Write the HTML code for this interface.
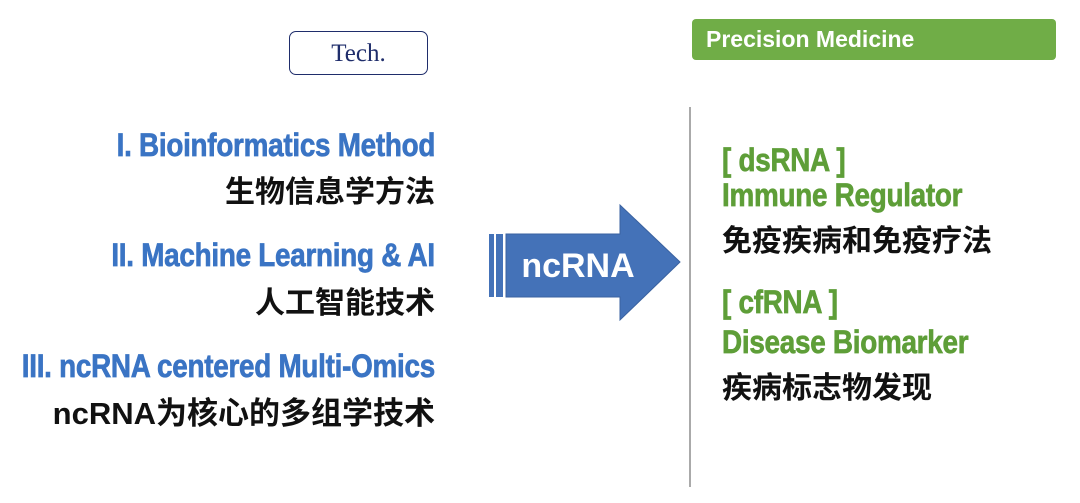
<!DOCTYPE html>
<html><head><meta charset="utf-8"><style>
body{margin:0;width:1080px;height:503px;background:#fff;position:relative;overflow:hidden;font-family:"Liberation Sans","Noto Sans CJK SC",sans-serif}
.a{position:absolute;white-space:nowrap}
.bl{color:#3a74c4;font-weight:bold;font-size:32px;right:645px;transform:scaleX(0.87);transform-origin:right top;letter-spacing:-0.3px;-webkit-text-stroke:0.7px #3a74c4}
.cn{color:#111;font-weight:bold;font-size:30px;right:645px}
.gr{color:#5e9e38;font-weight:bold;font-size:32px;left:722px;transform:scaleX(0.87);transform-origin:left top;letter-spacing:-0.3px;-webkit-text-stroke:0.7px #5e9e38}
.cr{color:#111;font-weight:bold;font-size:30px;left:722px}
</style></head><body>
<div class="a" style="left:289px;top:31px;width:137px;height:42px;border:1.5px solid #1f2d6b;border-radius:7px;text-align:center;line-height:44px;font-family:'Liberation Serif',serif;font-size:25px;color:#1f2d6b">Tech.</div>
<div class="a" style="left:692px;top:19px;width:364px;height:41px;background:#70ad47;border-radius:4px;color:#fff;font-weight:bold;font-size:23px;line-height:41px;padding-left:14px;box-sizing:border-box">Precision Medicine</div>
<div class="a" style="left:689px;top:107px;width:2px;height:380px;background:#aaa"></div>

<div class="a bl" style="top:127px">I. Bioinformatics Method</div>
<div class="a cn" style="top:167px">生物信息学方法</div>
<div class="a bl" style="top:237px">II. Machine Learning &amp; AI</div>
<div class="a cn" style="top:278px">人工智能技术</div>
<div class="a bl" style="top:348px">III. ncRNA centered Multi-Omics</div>
<div class="a cn" style="top:388px;font-size:31px">ncRNA为核心的多组学技术</div>

<svg class="a" style="left:0;top:0" width="1080" height="503">
<rect x="489" y="234" width="5" height="63" fill="#4472b8"/>
<rect x="496" y="234" width="7" height="63" fill="#4472b8"/>
<polygon points="506,234 620,234 620,205 680,262 620,320 620,297 506,297" fill="#4472b8" stroke="#3a62a0" stroke-width="1"/>
<text x="578" y="277" text-anchor="middle" fill="#fff" font-family="Liberation Sans,sans-serif" font-weight="bold" font-size="34">ncRNA</text>
</svg>

<div class="a gr" style="top:142px">[ dsRNA ]</div>
<div class="a gr" style="top:177px">Immune Regulator</div>
<div class="a cr" style="top:216px">免疫疾病和免疫疗法</div>
<div class="a gr" style="top:284px">[ cfRNA ]</div>
<div class="a gr" style="top:324px">Disease Biomarker</div>
<div class="a cr" style="top:363px">疾病标志物发现</div>
</body></html>
